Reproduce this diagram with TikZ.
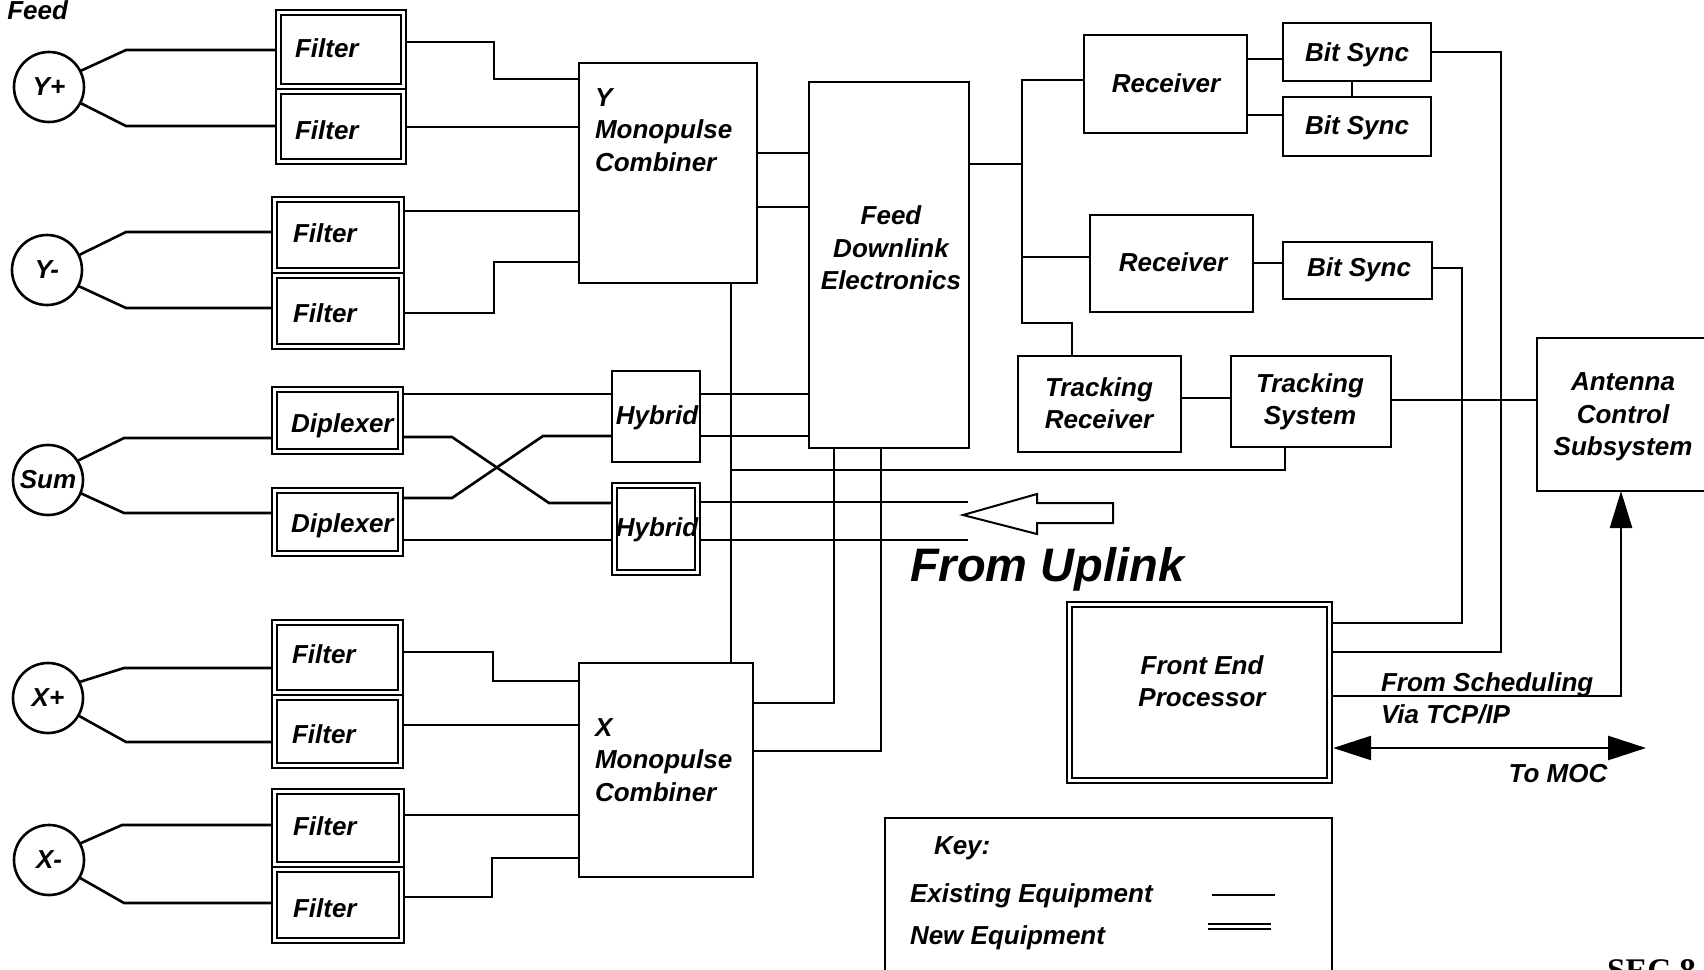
\documentclass[tikz,border=0pt]{standalone}
\usepackage{fontspec}
\setmainfont{Liberation Sans}
\newfontfamily\secfont{Liberation Serif}
\usetikzlibrary{fit,arrows.meta,backgrounds}
\begin{document}
\begin{tikzpicture}[x=1pt,y=-1pt,
  every node/.style={font=\fontsize{26}{32.5}\selectfont\bfseries\itshape, inner sep=0pt, outer sep=0pt},
  sbox/.style={draw, line width=2.6pt, rectangle},
  dbox/.style={draw, double, line width=2.3pt, double distance=2.6pt, rectangle},
  circ/.style={draw, circle, line width=2.6pt, minimum size=70pt},
  wire/.style={line width=2.6pt},
  lbl/.style={text height=18.6pt, text depth=0pt},
  ctext/.style={align=center},
]
\useasboundingbox (0,0) rectangle (1704,969);

% ---------- feeds ----------
\node[circ] (yp) at (49,87) {Y+};
\node[circ] (ym) at (47,270) {Y-};
\node[circ] (sum) at (48,480) {Sum};
\node[circ] (xp) at (48,698) {X+};
\node[circ] (xm) at (49,860) {X-};
\node[anchor=base east] (feedt) at (68,19) {Feed};

% ---------- filters / diplexers (new equipment) ----------
\node[dbox, fit={(278.5,12.5) (403.5,86.5)}] (fy1) {};
\node[dbox, fit={(278.5,91.5) (403.5,161.5)}] (fy2) {};
\node[dbox, fit={(274.5,199.5) (401.5,270.5)}] (fym1) {};
\node[dbox, fit={(274.5,275.5) (401.5,346.5)}] (fym2) {};
\node[dbox, fit={(274.5,389.5) (400.5,451.5)}] (d1) {};
\node[dbox, fit={(274.5,490.5) (400.5,553.5)}] (d2) {};
\node[dbox, fit={(274.5,622.5) (400.5,692.5)}] (fxp1) {};
\node[dbox, fit={(274.5,697.5) (400.5,765.5)}] (fxp2) {};
\node[dbox, fit={(274.5,791.5) (401.5,864.5)}] (fxm1) {};
\node[dbox, fit={(274.5,869.5) (401.5,940.5)}] (fxm2) {};

\node[lbl, anchor=west] (tfy1) at (295,48) {Filter};
\node[lbl, anchor=west] (tfy2) at (295,130) {Filter};
\node[lbl, anchor=west] (tfym1) at (293,233) {Filter};
\node[lbl, anchor=west] (tfym2) at (293,313) {Filter};
\node[lbl, anchor=west] (td1) at (291,423) {Diplexer};
\node[lbl, anchor=west] (td2) at (291,523) {Diplexer};
\node[lbl, anchor=west] (tfxp1) at (292,654) {Filter};
\node[lbl, anchor=west] (tfxp2) at (292,734) {Filter};
\node[lbl, anchor=west] (tfxm1) at (293,826) {Filter};
\node[lbl, anchor=west] (tfxm2) at (293,908) {Filter};

% ---------- hybrids ----------
\node[sbox, fit={(612,371) (700,462)}] (h1) {};
\node[lbl] (th1) at (657,415) {Hybrid};
\node[dbox, fit={(614.5,485.5) (697.5,572.5)}] (h2) {};
\node[lbl] (th2) at (657,527) {Hybrid};

% ---------- combiners, FDE ----------
\node[sbox, fit={(579,63) (757,283)}] (ympc) {};
\node[anchor=north west, align=left] (tympc) at (595,88.4) {Y\\Monopulse\\Combiner};
\node[sbox, fit={(579,663) (753,877)}] (xmpc) {};
\node[anchor=north west, align=left] (txmpc) at (595,718.4) {X\\Monopulse\\Combiner};
\node[sbox, fit={(809,82) (969,448)}] (fde) {};
\node[ctext] (tfde) at (891,248) {Feed\\Downlink\\Electronics};

% ---------- receivers ----------
\node[sbox, fit={(1084,35) (1247,133)}] (r1) {};
\node[lbl] (tr1) at (1166,83) {Receiver};
\node[sbox, fit={(1090,215) (1253,312)}] (r2) {};
\node[lbl] (tr2) at (1173,262) {Receiver};
\node[sbox, fit={(1283,23) (1431,81)}] (b1) {};
\node[lbl] (tb1) at (1357,52) {Bit Sync};
\node[sbox, fit={(1283,97) (1431,156)}] (b2) {};
\node[lbl] (tb2) at (1357,125) {Bit Sync};
\node[sbox, fit={(1283,242) (1432,299)}] (b3) {};
\node[lbl] (tb3) at (1359,267) {Bit Sync};
\node[sbox, fit={(1018,356) (1181,452)}] (tr) {};
\node[ctext] (ttr) at (1099,403) {Tracking\\Receiver};
\node[sbox, fit={(1231,356) (1391,447)}] (ts) {};
\node[ctext] (tts) at (1310,402) {Tracking\\System};
\node[sbox, fit={(1537,338) (1712,491)}] (acs) {};
\node[ctext] (tacs) at (1623,417) {Antenna\\Control\\Subsystem};

% ---------- FEP ----------
\node[dbox, fit={(1069.5,604.5) (1329.5,780.5)}] (fep) {};
\node[ctext] (tfep) at (1202,681) {Front End\\Processor};
\node[anchor=north west, align=left] (tsched) at (1381,672.4) {From Scheduling\\Via TCP/IP};
\node[lbl] (tmoc) at (1558,773) {To MOC};

% ---------- uplink ----------
\node[anchor=base west, font=\fontsize{47}{52}\selectfont\bfseries\itshape] (tup) at (910,581) {From Uplink};
\draw[line width=2pt, line join=miter] (963,515) -- (1037,494) -- (1037,503) -- (1113,503) -- (1113,523) -- (1037,523) -- (1037,534) -- cycle;

% ---------- key ----------
\node[sbox, fit={(885,818) (1332,990)}] (key) {};
\node[lbl, anchor=west] (tkey) at (934,845) {Key:};
\node[lbl, anchor=west] (texist) at (910,893) {Existing Equipment};
\node[lbl, anchor=west] (tnew) at (910,935) {New Equipment};
\draw[line width=2.4pt] (1212,895) -- (1275,895);
\draw[double, line width=2pt, double distance=3pt] (1208,926) -- (1271,926);

\node[anchor=base west, font=\secfont\fontsize{33}{36}\selectfont\bfseries\upshape] (tsec) at (1607,981) {SEC 8};

% ---------- free ends / junctions ----------
\coordinate (u1) at (968,502);
\coordinate (u2) at (968,540);
\coordinate (j1) at (731,470);
\coordinate (bus) at (1022,164);
\coordinate (bus2) at (1022,257);
\coordinate (moc) at (1646,748);

% ---------- connectors ----------
\begin{scope}[on background layer]
\fill[white] (-5,-5) rectangle (1710,975);
\begin{scope}[wire]
% Y+
\draw (yp.27) -- (126,50) -- (fy1.west |- 0,50);
\draw (yp.-27) -- (126,126) -- (fy2.west |- 0,126);
\draw (fy1.east |- 0,42) -| (494,79) -- (ympc.west |- 0,79);
\draw (fy2.east |- 0,127) -- (ympc.west |- 0,127);
% Y-
\draw (ym.25) -- (126,232) -- (fym1.west |- 0,232);
\draw (ym.-27) -- (126,308) -- (fym2.west |- 0,308);
\draw (fym1.east |- 0,211) -- (ympc.west |- 0,211);
\draw (fym2.east |- 0,313) -| (494,262) -- (ympc.west |- 0,262);
% Sum
\draw (sum.33) -- (124,438) -- (d1.west |- 0,438);
\draw (sum.-22) -- (124,513) -- (d2.west |- 0,513);
\draw (d1.east |- 0,394) -- (h1.west |- 0,394);
\draw (d1.east |- 0,437) -- (452,437) -- (549,503) -- (h2.west |- 0,503);
\draw (d2.east |- 0,498) -- (452,498) -- (543,436) -- (h1.west |- 0,436);
\draw (d2.east |- 0,540) -- (h2.west |- 0,540);
% X+
\draw (xp.27) -- (124,668) -- (fxp1.west |- 0,668);
\draw (xp.-30) -- (126,742) -- (fxp2.west |- 0,742);
\draw (fxp1.east |- 0,652) -| (493,681) -- (xmpc.west |- 0,681);
\draw (fxp2.east |- 0,725) -- (xmpc.west |- 0,725);
% X-
\draw (xm.28) -- (122,825) -- (fxm1.west |- 0,825);
\draw (xm.-30) -- (124,903) -- (fxm2.west |- 0,903);
\draw (fxm1.east |- 0,815) -- (xmpc.west |- 0,815);
\draw (fxm2.east |- 0,897) -| (492,858) -- (xmpc.west |- 0,858);
% hybrids
\draw (h1.east |- 0,394) -- (fde.west |- 0,394);
\draw (h1.east |- 0,436) -- (fde.west |- 0,436);
\draw (h2.east |- 0,502) -- (u1);
\draw (h2.east |- 0,540) -- (u2);
% combiners
\draw (ympc.east |- 0,153) -- (fde.west |- 0,153);
\draw (ympc.east |- 0,207) -- (fde.west |- 0,207);
\draw (731,0 |- ympc.south) -- (731,0 |- xmpc.north);
\draw (j1) -| (1285,0 |- ts.south);
\draw (834,0 |- fde.south) |- (xmpc.east |- 0,703);
\draw (881,0 |- fde.south) |- (xmpc.east |- 0,751);
% FDE to receivers
\draw (fde.east |- 0,164) -- (bus);
\draw (r1.west |- 0,80) -| (1022,323) -| (1072,0 |- tr.north);
\draw (bus2) -- (r2.west |- 0,257);
\draw (r1.east |- 0,59) -- (b1.west |- 0,59);
\draw (r1.east |- 0,115) -- (b2.west |- 0,115);
\draw (1352,0 |- b1.south) -- (1352,0 |- b2.north);
\draw (r2.east |- 0,263) -- (b3.west |- 0,263);
\draw (tr.east |- 0,398) -- (ts.west |- 0,398);
\draw (ts.east |- 0,400) -- (acs.west |- 0,400);
% to FEP
\draw (b1.east |- 0,52) -| (1501,652) -- (fep.east |- 0,652);
\draw (b3.east |- 0,268) -| (1462,623) -- (fep.east |- 0,623);
\draw[-{Triangle[length=37pt,width=22pt]}] (fep.east |- 0,696) -| (1621,0 |- acs.south);
\draw[{Triangle[length=38pt,width=24pt]}-{Triangle[length=38pt,width=24pt]}] ([xshift=3.7pt]fep.east |- 0,748) -- (moc);
\end{scope}
\end{scope}
\end{tikzpicture}
\end{document}
